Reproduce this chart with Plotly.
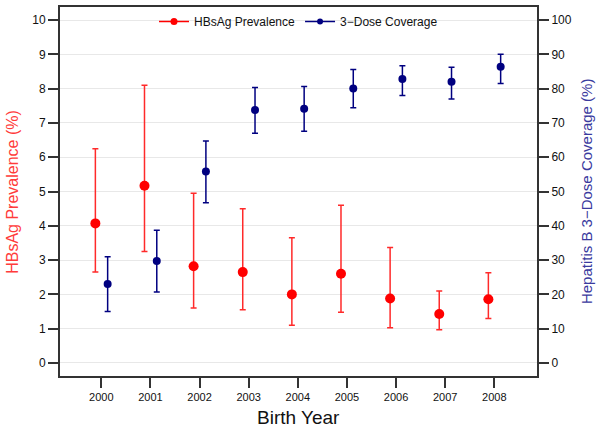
import plotly.graph_objects as go

years = [2000, 2001, 2002, 2003, 2004, 2005, 2006, 2007, 2008]

hbsag = [4.07, 5.17, 2.82, 2.65, 2.00, 2.60, 1.88, 1.43, 1.86]
hbsag_low = [2.65, 3.25, 1.60, 1.55, 1.10, 1.48, 1.03, 0.97, 1.30]
hbsag_high = [6.25, 8.10, 4.95, 4.50, 3.65, 4.60, 3.37, 2.10, 2.63]

cov = [23.0, 29.7, 55.8, 73.8, 74.1, 80.0, 82.8, 82.0, 86.4]
cov_low = [15.0, 20.7, 46.7, 67.0, 67.6, 74.4, 78.0, 77.0, 81.5]
cov_high = [31.0, 38.7, 64.7, 80.3, 80.6, 85.6, 86.7, 86.2, 90.0]

RED = "#FF0000"
NAVY = "#000080"
FONT = "Liberation Sans, Arial, sans-serif"

fig = go.Figure()

fig.add_trace(go.Scatter(
    x=[y - 0.12 for y in years], y=hbsag, mode="markers",
    marker=dict(color=RED, size=10),
    error_y=dict(type="data", symmetric=False,
                 array=[h - v for h, v in zip(hbsag_high, hbsag)],
                 arrayminus=[v - l for v, l in zip(hbsag, hbsag_low)],
                 color="#FF2A2A", thickness=1.5, width=3),
    showlegend=False, yaxis="y"))

fig.add_trace(go.Scatter(
    x=[y + 0.13 for y in years], y=cov, mode="markers",
    marker=dict(color=NAVY, size=8),
    error_y=dict(type="data", symmetric=False,
                 array=[h - v for h, v in zip(cov_high, cov)],
                 arrayminus=[v - l for v, l in zip(cov, cov_low)],
                 color=NAVY, thickness=1.5, width=3),
    showlegend=False, yaxis="y2"))

# legend entries
fig.add_trace(go.Scatter(x=[None], y=[None], mode="lines+markers",
                         line=dict(color=RED, width=1.5), marker=dict(color=RED, size=7),
                         name="HBsAg Prevalence"))
fig.add_trace(go.Scatter(x=[None], y=[None], mode="lines+markers",
                         line=dict(color=NAVY, width=1.5), marker=dict(color=NAVY, size=6),
                         name="3\u2212Dose Coverage", yaxis="y2"))

fig.update_layout(
    width=600, height=434,
    margin=dict(l=60, r=63, t=7, b=58, autoexpand=False),
    paper_bgcolor="white", plot_bgcolor="white",
    font=dict(family=FONT, size=12, color="#111111"),
    legend=dict(orientation="h", x=0.5, xanchor="center", y=1.0, yanchor="top",
                bgcolor="rgba(0,0,0,0)", font=dict(size=12), itemwidth=30,
                tracegroupgap=0),
    xaxis=dict(range=[1999.16, 2008.87], tickvals=years, ticktext=[str(y) for y in years],
               showgrid=False, zeroline=False, showline=True, linecolor="#333333",
               linewidth=2, mirror=True, ticks="outside", ticklen=10, tickwidth=1.5,
               tickcolor="#333333", tickfont=dict(size=11), automargin=False),
    yaxis=dict(range=[-0.38, 10.38], tickvals=list(range(0, 11)),
               showgrid=True, gridcolor="#E8E8E8", gridwidth=1, zeroline=False,
               showline=True, linecolor="#333333", linewidth=2,
               ticks="outside", ticklen=10, tickwidth=1.5, tickcolor="#333333",
               tickfont=dict(size=12), automargin=False),
    yaxis2=dict(range=[-3.8, 103.8], tickvals=list(range(0, 101, 10)),
                overlaying="y", side="right", showgrid=False, zeroline=False,
                showline=True, linecolor="#333333", linewidth=2,
                ticks="outside", ticklen=10, tickwidth=1.5, tickcolor="#333333",
                tickfont=dict(size=12), automargin=False),
    annotations=[
        dict(text="Birth Year", xref="paper", yref="paper", x=0.5, y=-0.113,
             xanchor="center", yanchor="middle", showarrow=False,
             font=dict(size=19, color="#111111")),
        dict(text="HBsAg Prevalence (%)", xref="paper", yref="paper",
             x=-0.1, xanchor="center", y=0.5, yanchor="middle", textangle=-90,
             showarrow=False, font=dict(size=16, color="#FF3B3B")),
        dict(text="Hepatitis B 3\u2212Dose Coverage (%)", xref="paper", yref="paper",
             x=1.104, xanchor="center", y=0.5, yanchor="middle", textangle=-90,
             showarrow=False, font=dict(size=15, color="#3A3A9E")),
    ],
)

fig.write_html("out.html", config={"displayModeBar": False},
               post_script="document.body.style.margin='0px';document.body.style.padding='0px';")
